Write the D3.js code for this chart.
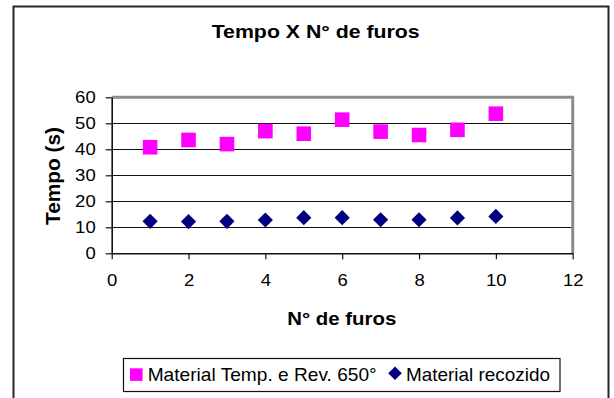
<!DOCTYPE html>
<html>
<head>
<meta charset="utf-8">
<script src="https://cdn.jsdelivr.net/npm/d3@7"></script>
<style>
  html, body { margin: 0; padding: 0; background: #fff; }
  svg { display: block; font-family: "Liberation Sans", Arial, sans-serif; }
</style>
</head>
<body>
<svg id="chart" width="614" height="398"></svg>
<script>
// ---- data ----
const furos = [1, 2, 3, 4, 5, 6, 7, 8, 9, 10];
const temperado = [40.8, 43.6, 42.0, 47.0, 46.0, 51.4, 46.8, 45.5, 47.5, 53.7];
const recozido = [12.3, 12.2, 12.3, 12.8, 13.7, 13.7, 12.9, 12.9, 13.6, 14.2];
const xTicks = [0, 2, 4, 6, 8, 10, 12];
const yTicks = [0, 10, 20, 30, 40, 50, 60];
const seriesNames = ["Material Temp. e Rev. 650°", "Material recozido"];
const titleText = "Tempo X N° de furos";
const xTitle = "N° de furos";
const yTitle = "Tempo (s)";

const svg = d3.select("#chart");
const plot = { left: 111.7, right: 572.7, top: 97.3, bottom: 253.3 };

const x = d3.scaleLinear().domain([0, 12]).range([plot.left, plot.right]);
const y = d3.scaleLinear().domain([0, 60]).range([plot.bottom, plot.top]);

// outer chart border
svg.append("rect").attr("x", 13.5).attr("y", 6.5).attr("width", 595).attr("height", 410)
  .attr("fill", "#fff").attr("stroke", "#262626").attr("stroke-width", 2);

// gridlines
svg.append("g").selectAll("line").data(yTicks.filter(d => d > 0 && d < 60)).join("line")
  .attr("x1", plot.left).attr("x2", plot.right)
  .attr("y1", d => Math.round(y(d)) + 0.5).attr("y2", d => Math.round(y(d)) + 0.5)
  .attr("stroke", "#111").attr("stroke-width", 1);

// plot frame top/right (gray)
svg.append("path")
  .attr("d", `M${plot.left},${plot.top} H${plot.right} V${plot.bottom}`)
  .attr("fill", "none").attr("stroke", "#8c8c8c").attr("stroke-width", 3);

// axes
const tl = (d) => String(d).length * 10.3;
const yAxis = svg.append("g").attr("transform", `translate(${plot.left},0)`)
  .call(d3.axisLeft(y).tickValues(yTicks).tickSize(6).tickPadding(10).tickSizeOuter(0));
const xAxis = svg.append("g").attr("transform", `translate(0,${plot.bottom})`)
  .call(d3.axisBottom(x).tickValues(xTicks).tickSize(6).tickPadding(15).tickSizeOuter(0));
[yAxis, xAxis].forEach(g => {
  g.select(".domain").attr("stroke", "#111").attr("stroke-width", 1.6);
  g.selectAll(".tick line").attr("stroke", "#111").attr("stroke-width", 1.2);
  g.selectAll(".tick text").attr("fill", "#000").attr("font-size", 17)
    .attr("font-family", "'Liberation Sans', Arial, sans-serif")
    .attr("textLength", d => tl(d)).attr("lengthAdjust", "spacingAndGlyphs");
});

// markers
const sq = 14.6;
svg.append("g").selectAll("rect").data(furos).join("rect")
  .attr("x", (d) => x(d) - sq / 2)
  .attr("y", (d, i) => y(temperado[i]) - sq / 2)
  .attr("width", sq).attr("height", sq).attr("fill", "#FF00FF");

const diamond = (cx, cy, r) => `M${cx},${cy - r} L${cx + r},${cy} L${cx},${cy + r} L${cx - r},${cy} Z`;
svg.append("g").selectAll("path").data(furos).join("path")
  .attr("d", (d, i) => diamond(x(d), y(recozido[i]), 7.6))
  .attr("fill", "#000080");

// title
svg.append("text").attr("x", 211.7).attr("y", 38)
  .attr("font-size", 19).attr("font-weight", "bold").attr("fill", "#000")
  .attr("textLength", 208).attr("lengthAdjust", "spacingAndGlyphs")
  .text(titleText);

// axis titles
svg.append("text").attr("x", 287.3).attr("y", 324.5)
  .attr("font-size", 19).attr("font-weight", "bold")
  .attr("textLength", 109).attr("lengthAdjust", "spacingAndGlyphs")
  .text(xTitle);
svg.append("text").attr("transform", "translate(60,225) rotate(-90)")
  .attr("font-size", 20).attr("font-weight", "bold")
  .attr("textLength", 98).attr("lengthAdjust", "spacingAndGlyphs")
  .text(yTitle);

// legend
const lg = svg.append("g");
lg.append("rect").attr("x", 123.5).attr("y", 358.5).attr("width", 436.5).attr("height", 33)
  .attr("fill", "#fff").attr("stroke", "#111").attr("stroke-width", 1.2);
lg.append("rect").attr("x", 130).attr("y", 368.3).attr("width", 12.6).attr("height", 12.6).attr("fill", "#FF00FF");
lg.append("text").attr("x", 147.7).attr("y", 381).attr("font-size", 18.5)
  .attr("textLength", 229).attr("lengthAdjust", "spacingAndGlyphs").text(seriesNames[0]);
lg.append("path").attr("d", diamond(395, 373.3, 6.8)).attr("fill", "#000080");
lg.append("text").attr("x", 406).attr("y", 381).attr("font-size", 18.5)
  .attr("textLength", 144).attr("lengthAdjust", "spacingAndGlyphs").text(seriesNames[1]);
</script>
</body>
</html>
